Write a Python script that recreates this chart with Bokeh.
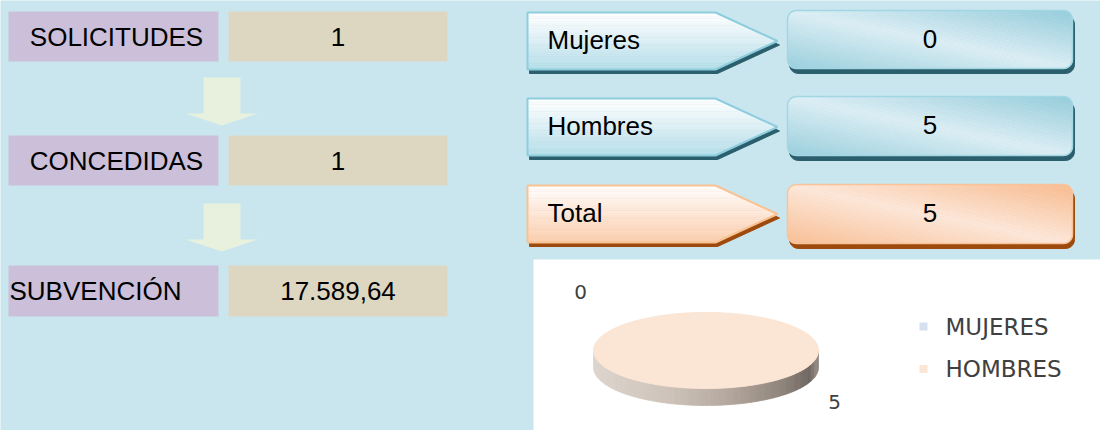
import numpy as np
from bokeh.plotting import figure
from bokeh.models import Range1d
from bokeh.core.properties import value
from bokeh.embed import file_html
from bokeh.resources import INLINE

# ---------------- data ----------------
flow_labels = ["SOLICITUDES", "CONCEDIDAS", "SUBVENCIÓN"]
flow_values = ["1", "1", "17.589,64"]
gender_labels = ["Mujeres", "Hombres", "Total"]
gender_values = [0, 5, 5]
pie_categories = ["MUJERES", "HOMBRES"]
pie_values = [0, 5]

# ---------------- style / layout ----------------
BG = "#C9E6EF"
FONT = value("Liberation Sans")
PIE_FONT = value("DejaVu Sans")
FS = "26px"
W, H = 1100, 430

p = figure(width=W, height=H, x_range=Range1d(0, W), y_range=Range1d(H, 0),
           output_backend="svg", toolbar_location=None, tools="",
           x_axis_location=None, y_axis_location=None)
p.grid.visible = False
p.outline_line_color = None
p.background_fill_color = BG
p.border_fill_color = BG
p.min_border = 0


def hex2rgb(h):
    h = h.lstrip('#')
    return tuple(int(h[i:i + 2], 16) for i in (0, 2, 4))


def rgb2hex(c):
    return "#%02x%02x%02x" % tuple(int(round(max(0, min(255, v)))) for v in c)


def ramp(stops, s):
    s = min(max(s, stops[0][0]), stops[-1][0])
    for (p0, c0), (p1, c1) in zip(stops[:-1], stops[1:]):
        if s <= p1:
            f = 0 if p1 == p0 else (s - p0) / (p1 - p0)
            a, b = hex2rgb(c0), hex2rgb(c1)
            return rgb2hex([a[i] + (b[i] - a[i]) * f for i in range(3)])
    return stops[-1][1]


def clip(poly, a, b, c):
    """keep the part of poly where a*x + b*y >= c"""
    out = []
    n = len(poly)
    for i in range(n):
        P = poly[i]
        Q = poly[(i + 1) % n]
        dp = a * P[0] + b * P[1] - c
        dq = a * Q[0] + b * Q[1] - c
        if dp >= 0:
            out.append(P)
        if (dp >= 0) != (dq >= 0):
            t = dp / (dp - dq)
            out.append((P[0] + t * (Q[0] - P[0]), P[1] + t * (Q[1] - P[1])))
    return out


def gradient(poly, a, b, c, stops, n=40):
    vals = [a * x + b * y + c for x, y in poly]
    lo, hi = min(vals), max(vals)
    xs, ys, cols = [], [], []
    for i in range(n):
        s0 = lo + (hi - lo) * i / n
        s1 = lo + (hi - lo) * (i + 1) / n
        q = clip(poly, a, b, s0 - c)
        q = clip(q, -a, -b, -(s1 - c))
        if len(q) >= 3:
            xs.append([pt[0] for pt in q])
            ys.append([pt[1] for pt in q])
            cols.append(ramp(stops, (s0 + s1) / 2))
    p.patches(xs, ys, fill_color=cols, line_color=cols, line_width=0.8)


def rrect(x0, y0, x1, y1, r, k=8):
    pts = []
    for cx, cy, a0 in [(x1 - r, y0 + r, -90), (x1 - r, y1 - r, 0),
                       (x0 + r, y1 - r, 90), (x0 + r, y0 + r, 180)]:
        for j in range(k + 1):
            ang = np.radians(a0 + 90 * j / k)
            pts.append((cx + r * np.cos(ang), cy + r * np.sin(ang)))
    return pts


def shape(pts, dx=0, dy=0):
    return [x + dx for x, _ in pts], [y + dy for _, y in pts]


# ---------------- left: flow of applications ----------------
LAB_X = (8, 218)
VAL_X = (228, 447)
ROWS_Y = [(11, 61), (135, 185), (265, 316)]
ARROWS_Y = [(77, 113, 125), (203, 239, 251)]

for (y0, y1) in ROWS_Y:
    p.quad(left=LAB_X[0], right=LAB_X[1], top=y0, bottom=y1, fill_color="#CBBFD9", line_color=None)
    p.quad(left=VAL_X[0], right=VAL_X[1], top=y0, bottom=y1, fill_color="#DDD7C2", line_color=None)

for (s0, s1, tip) in ARROWS_Y:
    ax = [203, 240, 240, 257, 221.5, 185, 203]
    ay = [s0, s0, s1, s1, tip, s1, s1]
    p.patch(ax, ay, fill_color="#E8F1DE", line_color=None)

for i, (lab, val) in enumerate(zip(flow_labels, flow_values)):
    y0, y1 = ROWS_Y[i]
    yc = (y0 + y1) / 2
    if i < 2:
        p.text(x=[116], y=[yc], text=[lab], text_font=FONT, text_font_size=FS,
               text_align="center", text_baseline="middle", text_color="#000000")
    else:
        p.text(x=[9], y=[yc], text=[lab], text_font=FONT, text_font_size=FS,
               text_align="left", text_baseline="middle", text_color="#000000")
    p.text(x=[(VAL_X[0] + VAL_X[1]) / 2], y=[yc], text=[val], text_font=FONT, text_font_size=FS,
           text_align="center", text_baseline="middle", text_color="#000000")

# ---------------- right: gender boxes ----------------
PENT_X = (527, 715, 777)
PENT_Y = [(12, 69), (98, 155), (185, 242)]
VBOX_X = (787, 1072)
VBOX_Y = [(10, 68), (96, 155), (184, 243)]

BLUE = dict(pent=[(0, "#FFFFFF"), (0.35, "#E9F5F9"), (1, "#B7DFEA")], pborder="#8DCDDD",
            shadow="#2C5F6D",
            val=[(0, "#9BD0DE"), (0.5, "#DDEFF5"), (1, "#96CDDC")], vborder="#A2D6E3")
ORANGE = dict(pent=[(0, "#FFFFFF"), (0.35, "#FEEEE3"), (1, "#FCD0B0")], pborder="#F8C292",
              shadow="#9D4A0C",
              val=[(0, "#F9C097"), (0.5, "#FDE8DA"), (1, "#F8BD92")], vborder="#F8C39A")
themes = [BLUE, BLUE, ORANGE]

for i, (lab, val) in enumerate(zip(gender_labels, gender_values)):
    th = themes[i]
    y0, y1 = PENT_Y[i]
    ym = (y0 + y1) / 2
    pent = [(PENT_X[0], y0), (PENT_X[1], y0), (PENT_X[2], ym), (PENT_X[1], y1), (PENT_X[0], y1)]
    sx, sy = shape(pent, 2, 4)
    p.patch(sx, sy, fill_color=th["shadow"], line_color=th["shadow"], line_width=1)
    gradient(pent, 0, 1.0 / (y1 - y0), -y0 / (y1 - y0), th["pent"], n=30)
    px, py = shape(pent)
    p.patch(px, py, fill_alpha=0, line_color=th["pborder"], line_width=2)
    p.text(x=[547], y=[ym - 1], text=[lab], text_font=FONT, text_font_size=FS,
           text_align="left", text_baseline="middle", text_color="#000000")

    vy0, vy1 = VBOX_Y[i]
    x0, x1 = VBOX_X
    box = rrect(x0, vy0, x1, vy1, 9)
    sx, sy = shape(box, 2, 5)
    p.patch(sx, sy, fill_color=th["shadow"], line_color=th["shadow"], line_width=1)
    w, h = x1 - x0, vy1 - vy0
    gradient(box, 0.5 / w, -0.5 / h, 0.5 * (-x0 / w + 1 + vy0 / h), th["val"], n=50)
    bx, by = shape(box)
    p.patch(bx, by, fill_alpha=0, line_color=th["vborder"], line_width=1.5)
    p.text(x=[(x0 + x1) / 2], y=[(vy0 + vy1) / 2 - 1], text=[str(val)], text_font=FONT,
           text_font_size=FS, text_align="center", text_baseline="middle", text_color="#000000")

# ---------------- bottom right: 3-D pie ----------------
p.quad(left=533, right=1100, top=259, bottom=430, fill_color="#FFFFFF", line_color=None)

PIE_CX, PIE_CY, PIE_RX, PIE_RY, PIE_TH = 705.5, 350, 112.5, 38, 17
pie_colors = ["#D5E1EF", "#FBE5D5"]
side_stops = [(0, "#DDD5CE"), (0.35, "#CDC2B8"), (0.6, "#B4A89E"), (0.85, "#8E837A"),
              (0.96, "#716862"), (1.0, "#9A9089")]
label_pos = [(580, 291), (834, 401)]

total = float(sum(pie_values))
ang = np.pi / 2
slices = []
for v, col in zip(pie_values, pie_colors):
    frac = v / total
    a0, a1 = ang, ang - 2 * np.pi * frac
    ang = a1
    slices.append((frac, a0, a1, col))

# sides first
for frac, a0, a1, col in slices:
    if frac <= 0:
        continue
    t = np.linspace(a0, a1, 240)
    t = t[np.sin(t) <= 0]
    if len(t) < 2:
        continue
    top = [(PIE_CX + PIE_RX * np.cos(a), PIE_CY - PIE_RY * np.sin(a)) for a in t]
    bot = [(x, y + PIE_TH) for x, y in top][::-1]
    side = top + bot
    gradient(side, 1.0 / (2 * PIE_RX), 0, -(PIE_CX - PIE_RX) / (2 * PIE_RX), side_stops, n=60)

# top faces
for frac, a0, a1, col in slices:
    if frac <= 0:
        continue
    t = np.linspace(a0, a1, 240)
    pts = [(PIE_CX + PIE_RX * np.cos(a), PIE_CY - PIE_RY * np.sin(a)) for a in t]
    if frac < 0.999:
        pts = [(PIE_CX, PIE_CY)] + pts
    fx, fy = shape(pts)
    p.patch(fx, fy, fill_color=col, line_color=col, line_width=1)

for (lx, ly), v in zip(label_pos, pie_values):
    p.text(x=[lx], y=[ly], text=[str(v)], text_font=PIE_FONT, text_font_size="20px",
           text_align="center", text_baseline="middle", text_color="#404040")

# legend
LEG_Y = [326, 368.5]
for cat, col, ly in zip(pie_categories, pie_colors, LEG_Y):
    p.quad(left=919, right=927, top=ly - 4, bottom=ly + 4, fill_color=col, line_color=None)
    p.text(x=[945], y=[ly], text=[cat], text_font=PIE_FONT, text_font_size="23px",
           text_align="left", text_baseline="middle", text_color="#404040")

open("out.html", "w").write(file_html(p, INLINE))
